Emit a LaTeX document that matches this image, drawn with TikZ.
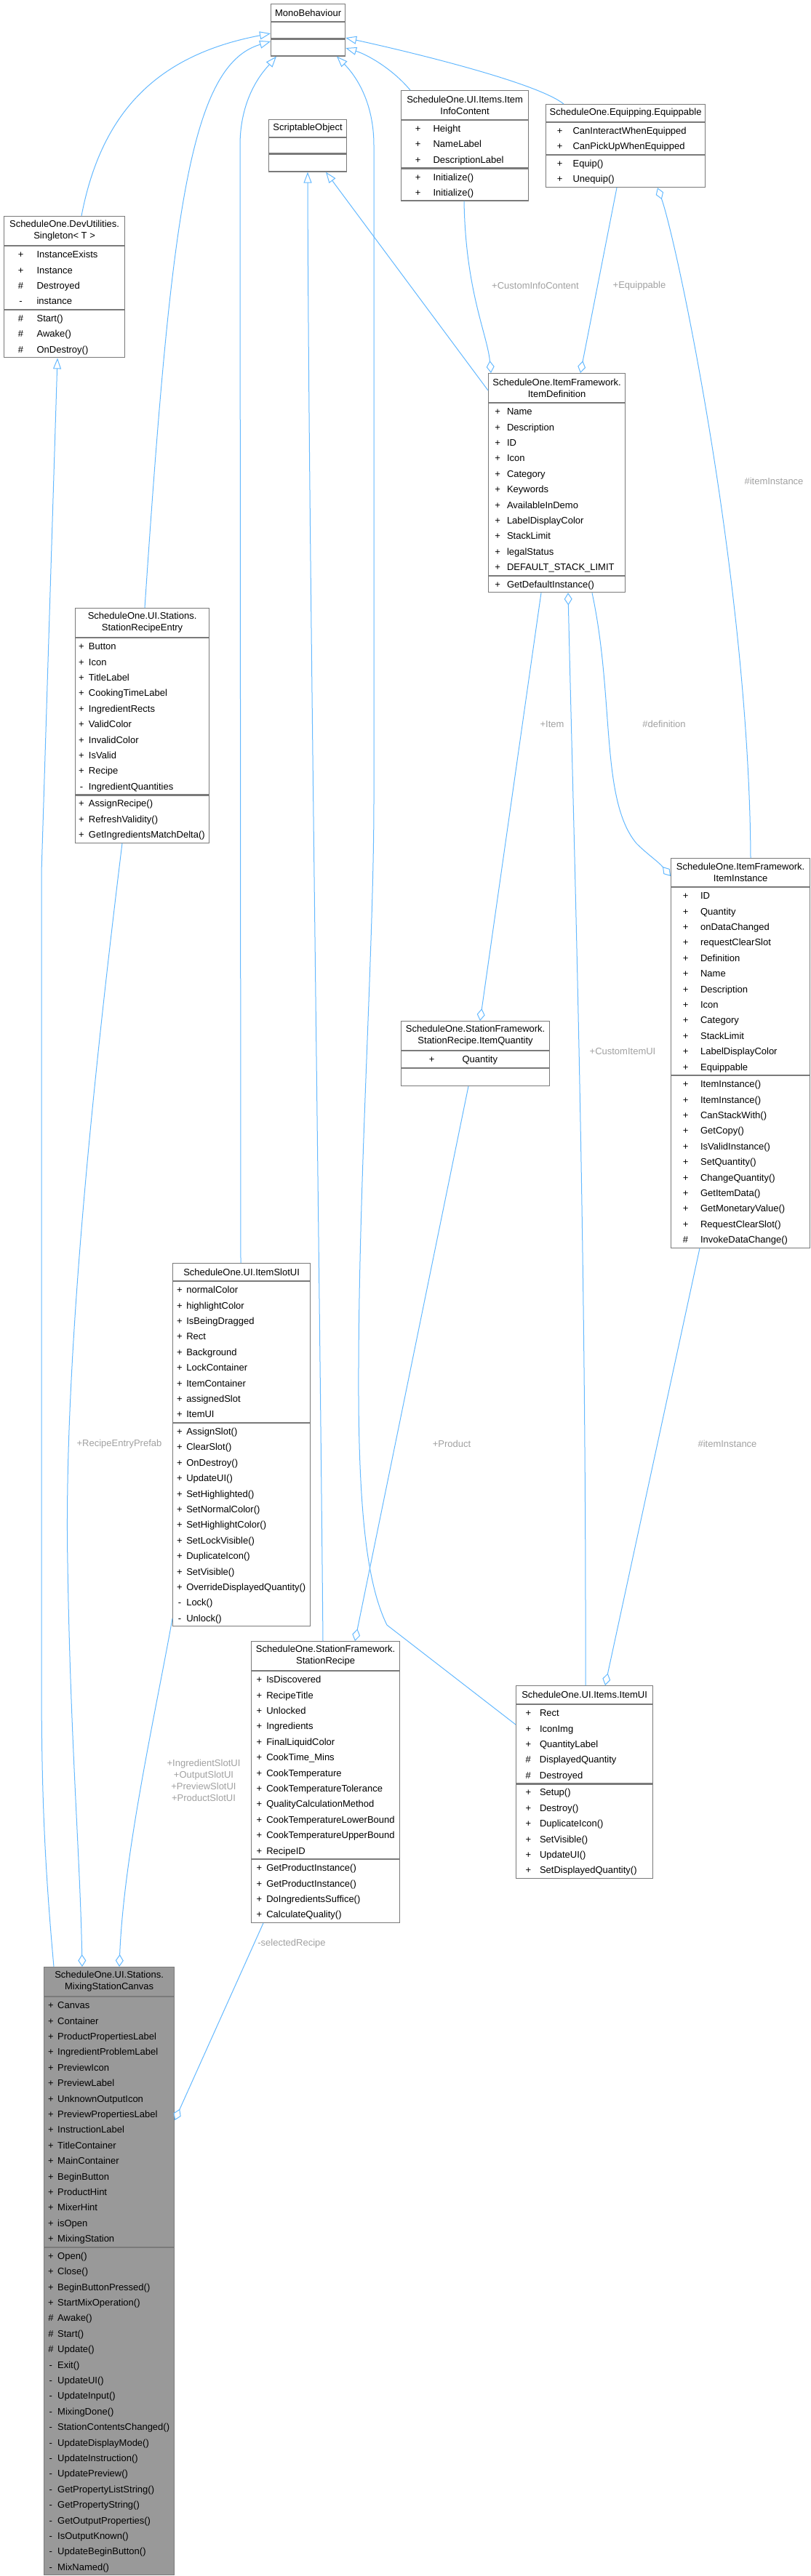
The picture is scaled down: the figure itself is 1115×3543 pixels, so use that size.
\documentclass[tikz,border=0pt]{standalone}
\usepackage{fontspec}
\setmainfont{Liberation Sans}
\usetikzlibrary{arrows.meta, positioning, calc}

\definecolor{edgeblue}{HTML}{63B8FF}
\definecolor{boxline}{HTML}{7A7A7A}
\definecolor{mainfill}{HTML}{999999}
\definecolor{lblgray}{HTML}{A0A0A0}

\newlength\symx
\newlength\namex
% one member row: visibility sign centred at \symx, name starting at \namex
\newcommand{\member}[2]{\rule[-6.1pt]{0pt}{21.4pt}\makebox[0pt][l]{\hspace*{\symx}\makebox[0pt][c]{#1}}\hspace*{\namex}#2}

\begin{document}
\begin{tikzpicture}[
    x=1pt, y=-1pt,
    ttl/.style={draw=boxline, line width=1.2pt, fill=white, anchor=north west, inner sep=0pt, align=center, font=\fontsize{13pt}{16pt}\selectfont},
    sec/.style n args={3}{draw=boxline, line width=1.2pt, fill=white, inner xsep=0pt, inner ysep=0.5pt, text width=#1, align=left, font=\fontsize{13pt}{21.4pt}\selectfont, execute at begin node={\setlength{\parindent}{0pt}\setlength{\symx}{#2}\setlength{\namex}{#3}}},
    inherit/.style={draw=edgeblue, line width=1pt, -{Triangle[open, length=15pt, width=11pt]}},
    agg/.style={draw=edgeblue, line width=1pt, {Diamond[open, length=17pt, width=11pt]}-},
    lbl/.style={text=lblgray, font=\fontsize{13pt}{16pt}\selectfont, align=center, inner sep=0pt}
]
\useasboundingbox (0,0) rectangle (1115,3543);

% base classes
\node[ttl, minimum width=102pt, minimum height=24pt] (mono) at (372,5) {MonoBehaviour};
\node[sec={102pt}{0pt}{0pt}, minimum height=22pt, below=0pt of mono] (monoA) {};
\node[sec={102pt}{0pt}{0pt}, minimum height=23pt, below=0pt of monoA] (monoM) {};

\node[ttl, minimum width=107pt, minimum height=24pt] (sobj) at (369,164) {ScriptableObject};
\node[sec={107pt}{0pt}{0pt}, minimum height=21pt, below=0pt of sobj] (sobjA) {};
\node[sec={107pt}{0pt}{0pt}, minimum height=24pt, below=0pt of sobjA] (sobjM) {};

\node[ttl, minimum width=175pt, minimum height=40pt] (info) at (551,124) {ScheduleOne.UI.Items.Item\\InfoContent};
\node[sec={175pt}{23pt}{44pt}, below=0pt of info] (infoA) {\member{+}{Height}\\\member{+}{NameLabel}\\\member{+}{DescriptionLabel}};
\node[sec={175pt}{23pt}{44pt}, below=0pt of infoA] (infoM) {\member{+}{Initialize()}\\\member{+}{Initialize()}};

\node[ttl, minimum width=219pt, minimum height=24pt] (equip) at (750,143) {ScheduleOne.Equipping.Equippable};
\node[sec={219pt}{19pt}{37pt}, below=0pt of equip] (equipA) {\member{+}{CanInteractWhenEquipped}\\\member{+}{CanPickUpWhenEquipped}};
\node[sec={219pt}{19pt}{37pt}, below=0pt of equipA] (equipM) {\member{+}{Equip()}\\\member{+}{Unequip()}};

\node[ttl, minimum width=166pt, minimum height=40pt] (single) at (5,297) {ScheduleOne.DevUtilities.\\Singleton< T >};
\node[sec={166pt}{23pt}{45pt}, below=0pt of single] (singleA) {\member{+}{InstanceExists}\\\member{+}{Instance}\\\member{\#}{Destroyed}\\\member{-}{instance}};
\node[sec={166pt}{23pt}{45pt}, below=0pt of singleA] (singleM) {\member{\#}{Start()}\\\member{\#}{Awake()}\\\member{\#}{OnDestroy()}};

% item framework
\node[ttl, minimum width=188pt, minimum height=40pt] (idef) at (671,513) {ScheduleOne.ItemFramework.\\ItemDefinition};
\node[sec={188pt}{12.6pt}{25.4pt}, below=0pt of idef] (idefA) {\member{+}{Name}\\\member{+}{Description}\\\member{+}{ID}\\\member{+}{Icon}\\\member{+}{Category}\\\member{+}{Keywords}\\\member{+}{AvailableInDemo}\\\member{+}{LabelDisplayColor}\\\member{+}{StackLimit}\\\member{+}{legalStatus}\\\member{+}{DEFAULT\_STACK\_LIMIT}};
\node[sec={188pt}{12.6pt}{25.4pt}, below=0pt of idefA] (idefM) {\member{+}{GetDefaultInstance()}};

\node[ttl, minimum width=191pt, minimum height=39pt] (inst) at (922,1180) {ScheduleOne.ItemFramework.\\ItemInstance};
\node[sec={191pt}{20pt}{40.5pt}, below=0pt of inst] (instA) {\member{+}{ID}\\\member{+}{Quantity}\\\member{+}{onDataChanged}\\\member{+}{requestClearSlot}\\\member{+}{Definition}\\\member{+}{Name}\\\member{+}{Description}\\\member{+}{Icon}\\\member{+}{Category}\\\member{+}{StackLimit}\\\member{+}{LabelDisplayColor}\\\member{+}{Equippable}};
\node[sec={191pt}{20pt}{40.5pt}, below=0pt of instA] (instM) {\member{+}{ItemInstance()}\\\member{+}{ItemInstance()}\\\member{+}{CanStackWith()}\\\member{+}{GetCopy()}\\\member{+}{IsValidInstance()}\\\member{+}{SetQuantity()}\\\member{+}{ChangeQuantity()}\\\member{+}{GetItemData()}\\\member{+}{GetMonetaryValue()}\\\member{+}{RequestClearSlot()}\\\member{\#}{InvokeDataChange()}};

% stations
\node[ttl, minimum width=184pt, minimum height=40pt] (entry) at (103,836) {ScheduleOne.UI.Stations.\\StationRecipeEntry};
\node[sec={184pt}{8.4pt}{18.4pt}, below=0pt of entry] (entryA) {\member{+}{Button}\\\member{+}{Icon}\\\member{+}{TitleLabel}\\\member{+}{CookingTimeLabel}\\\member{+}{IngredientRects}\\\member{+}{ValidColor}\\\member{+}{InvalidColor}\\\member{+}{IsValid}\\\member{+}{Recipe}\\\member{-}{IngredientQuantities}};
\node[sec={184pt}{8.4pt}{18.4pt}, below=0pt of entryA] (entryM) {\member{+}{AssignRecipe()}\\\member{+}{RefreshValidity()}\\\member{+}{GetIngredientsMatchDelta()}};

\node[ttl, minimum width=204pt, minimum height=40pt] (iq) at (551,1404) {ScheduleOne.StationFramework.\\StationRecipe.ItemQuantity};
\node[sec={204pt}{42pt}{84pt}, below=0pt of iq] (iqA) {\member{+}{Quantity}};
\node[sec={204pt}{0pt}{0pt}, minimum height=24pt, below=0pt of iqA] (iqM) {};

\node[ttl, minimum width=189pt, minimum height=24pt] (slot) at (237,1737) {ScheduleOne.UI.ItemSlotUI};
\node[sec={189pt}{9.4pt}{18.7pt}, below=0pt of slot] (slotA) {\member{+}{normalColor}\\\member{+}{highlightColor}\\\member{+}{IsBeingDragged}\\\member{+}{Rect}\\\member{+}{Background}\\\member{+}{LockContainer}\\\member{+}{ItemContainer}\\\member{+}{assignedSlot}\\\member{+}{ItemUI}};
\node[sec={189pt}{9.4pt}{18.7pt}, below=0pt of slotA] (slotM) {\member{+}{AssignSlot()}\\\member{+}{ClearSlot()}\\\member{+}{OnDestroy()}\\\member{+}{UpdateUI()}\\\member{+}{SetHighlighted()}\\\member{+}{SetNormalColor()}\\\member{+}{SetHighlightColor()}\\\member{+}{SetLockVisible()}\\\member{+}{DuplicateIcon()}\\\member{+}{SetVisible()}\\\member{+}{OverrideDisplayedQuantity()}\\\member{-}{Lock()}\\\member{-}{Unlock()}};

\node[ttl, minimum width=204pt, minimum height=40pt] (recipe) at (345,2257) {ScheduleOne.StationFramework.\\StationRecipe};
\node[sec={204pt}{10.7pt}{20.7pt}, below=0pt of recipe] (recipeA) {\member{+}{IsDiscovered}\\\member{+}{RecipeTitle}\\\member{+}{Unlocked}\\\member{+}{Ingredients}\\\member{+}{FinalLiquidColor}\\\member{+}{CookTime\_Mins}\\\member{+}{CookTemperature}\\\member{+}{CookTemperatureTolerance}\\\member{+}{QualityCalculationMethod}\\\member{+}{CookTemperatureLowerBound}\\\member{+}{CookTemperatureUpperBound}\\\member{+}{RecipeID}};
\node[sec={204pt}{10.7pt}{20.7pt}, below=0pt of recipeA] (recipeM) {\member{+}{GetProductInstance()}\\\member{+}{GetProductInstance()}\\\member{+}{DoIngredientsSuffice()}\\\member{+}{CalculateQuality()}};

\node[ttl, minimum width=188pt, minimum height=25pt] (iui) at (709,2318) {ScheduleOne.UI.Items.ItemUI};
\node[sec={188pt}{16.7pt}{32.4pt}, below=0pt of iui] (iuiA) {\member{+}{Rect}\\\member{+}{IconImg}\\\member{+}{QuantityLabel}\\\member{\#}{DisplayedQuantity}\\\member{\#}{Destroyed}};
\node[sec={188pt}{16.7pt}{32.4pt}, below=0pt of iuiA] (iuiM) {\member{+}{Setup()}\\\member{+}{Destroy()}\\\member{+}{DuplicateIcon()}\\\member{+}{SetVisible()}\\\member{+}{UpdateUI()}\\\member{+}{SetDisplayedQuantity()}};

% the class of this diagram
\node[ttl, fill=mainfill, minimum width=179pt, minimum height=40pt] (mix) at (60,2705) {ScheduleOne.UI.Stations.\\MixingStationCanvas};
\node[sec={179pt}{9.3pt}{18.6pt}, fill=mainfill, below=0pt of mix] (mixA) {\member{+}{Canvas}\\\member{+}{Container}\\\member{+}{ProductPropertiesLabel}\\\member{+}{IngredientProblemLabel}\\\member{+}{PreviewIcon}\\\member{+}{PreviewLabel}\\\member{+}{UnknownOutputIcon}\\\member{+}{PreviewPropertiesLabel}\\\member{+}{InstructionLabel}\\\member{+}{TitleContainer}\\\member{+}{MainContainer}\\\member{+}{BeginButton}\\\member{+}{ProductHint}\\\member{+}{MixerHint}\\\member{+}{isOpen}\\\member{+}{MixingStation}};
\node[sec={179pt}{9.3pt}{18.6pt}, fill=mainfill, below=0pt of mixA] (mixM) {\member{+}{Open()}\\\member{+}{Close()}\\\member{+}{BeginButtonPressed()}\\\member{+}{StartMixOperation()}\\\member{\#}{Awake()}\\\member{\#}{Start()}\\\member{\#}{Update()}\\\member{-}{Exit()}\\\member{-}{UpdateUI()}\\\member{-}{UpdateInput()}\\\member{-}{MixingDone()}\\\member{-}{StationContentsChanged()}\\\member{-}{UpdateDisplayMode()}\\\member{-}{UpdateInstruction()}\\\member{-}{UpdatePreview()}\\\member{-}{GetPropertyListString()}\\\member{-}{GetPropertyString()}\\\member{-}{GetOutputProperties()}\\\member{-}{IsOutputKnown()}\\\member{-}{UpdateBeginButton()}\\\member{-}{MixNamed()}};

% inheritance
\draw[inherit] ($(single.north west)+(107,0)$) .. controls (140,150) and (220,75) .. ($(mono.north west)+(0,41)$);
\draw[inherit] ($(entry.north west)+(96,0)$) .. controls (235,300) and (260,90) .. ($(mono.north west)+(0,52)$);
\draw[inherit] ($(slot.north west)+(94,0)$) -- (330,200) .. controls (330,130) and (365,95) .. ($(monoM.south west)+(8,0)$);
\draw[inherit] ($(iui.north west)+(0,54)$) -- (532,2235) .. controls (505,2180) and (492,2080) .. (493,1880) .. controls (494,1600) and (514,1300) .. (514,1100) -- (514,200) .. controls (514,130) and (480,95) .. ($(monoM.south west)+(91,0)$);
\draw[inherit] ($(info.north west)+(13,0)$) .. controls (540,95) and (505,75) .. ($(mono.north east)+(0,61)$);
\draw[inherit] ($(equip.north west)+(25,0)$) .. controls (740,115) and (580,75) .. ($(mono.north east)+(0,47)$);
\draw[inherit] ($(recipe.north west)+(99,0)$) .. controls (438,1600) and (424,700) .. ($(sobjM.south west)+(54,0)$);
\draw[inherit] ($(idef.north west)+(0,24)$) -- ($(sobjM.south west)+(79,0)$);
\draw[inherit] ($(mix.north west)+(14,0)$) .. controls (60,2550) and (57,2450) .. (57,2300) -- (57,1200) -- ($(singleM.south west)+(74,0)$);

% aggregation
\draw[agg] ($(idef.north west)+(4,0)$) .. controls (670,460) and (640,400) .. ($(infoM.south west)+(87,0)$);
\draw[agg] ($(idef.north west)+(127,0)$) -- ($(equipM.south west)+(98,0)$);
\draw[agg] ($(equipM.south west)+(154,0)$) .. controls (930,330) and (1030,800) .. ($(inst.north west)+(110,0)$);
\draw[agg] ($(idefM.south west)+(110,0)$) .. controls (790,1200) and (806,1700) .. ($(iui.north west)+(96,0)$);
\draw[agg] ($(iq.north west)+(109,0)$) -- ($(idefM.south west)+(73,0)$);
\draw[agg] ($(inst.north west)+(0,25)$) .. controls (905,1185) and (890,1175) .. (875,1160) .. controls (825,1100) and (845,960) .. ($(idefM.south west)+(143,0)$);
\draw[agg] ($(recipe.north west)+(143,0)$) -- ($(iqM.south west)+(93,0)$);
\draw[agg] ($(iui.north west)+(123,0)$) -- ($(instM.south west)+(40,0)$);
\draw[agg] ($(mix.north west)+(53,0)$) .. controls (110,2550) and (97,2400) .. (93,2150) .. controls (88,1900) and (120,1550) .. ($(entryM.south west)+(65,0)$);
\draw[agg] ($(mix.north west)+(104,0)$) .. controls (170,2550) and (215,2350) .. ($(slotM.north west)+(0,269)$);
\draw[agg] ($(mixA.north east)+(0,170)$) -- ($(recipeM.south west)+(17,0)$);

% edge labels
\node[lbl] (lInfo) at (736,393) {+CustomInfoContent};
\node[lbl] (lEquip) at (879,393) {+Equippable};
\node[lbl] (lInstA) at (1064,662) {\#itemInstance};
\node[lbl] (lItem) at (759,996) {+Item};
\node[lbl] (lDef) at (913,996) {\#definition};
\node[lbl] (lItemUI) at (856,1446) {+CustomItemUI};
\node[lbl] (lPrefab) at (164,1986) {+RecipeEntryPrefab};
\node[lbl] (lProduct) at (621,1986) {+Product};
\node[lbl] (lInstB) at (1000,1986) {\#itemInstance};
\node[lbl] (lSlots) at (280,2449) {+IngredientSlotUI\\+OutputSlotUI\\+PreviewSlotUI\\+ProductSlotUI};
\node[lbl] (lSel) at (401,2673) {-selectedRecipe};
\end{tikzpicture}
\end{document}
